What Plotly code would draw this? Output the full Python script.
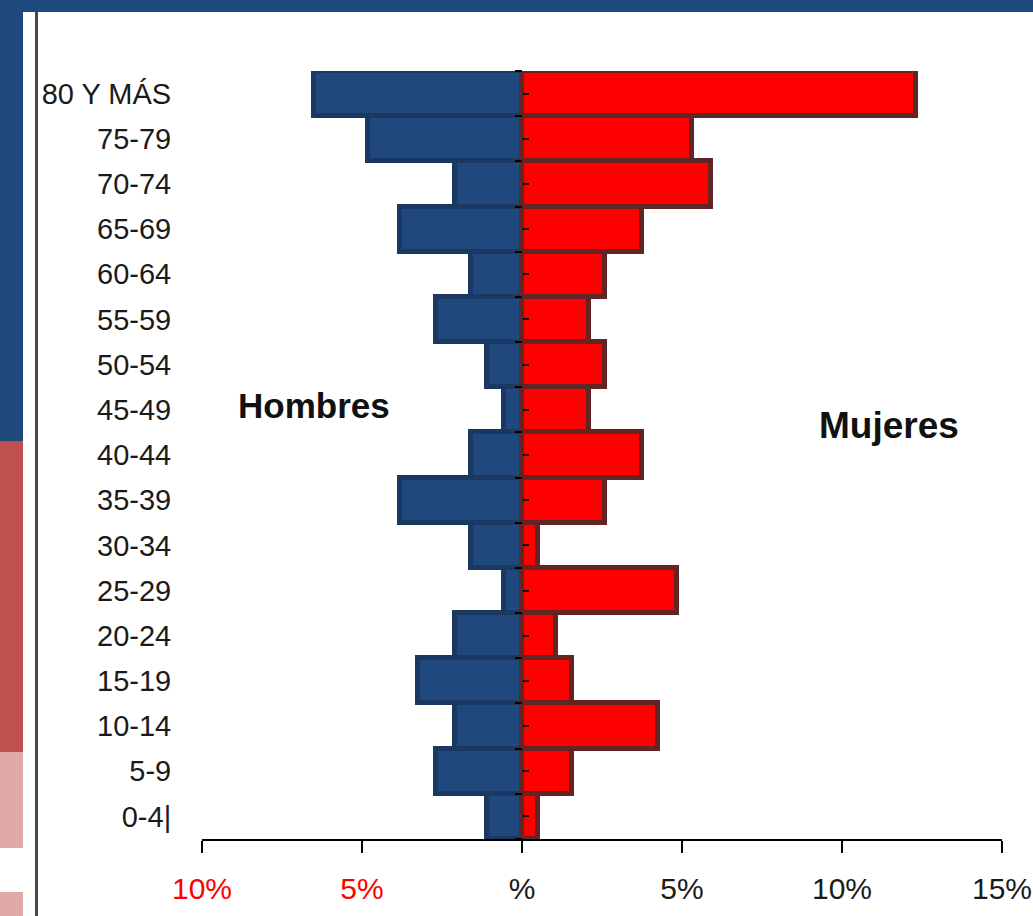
import plotly.graph_objects as go

age_groups = ['0-4|', '5-9', '10-14', '15-19', '20-24', '25-29', '30-34', '35-39',
              '40-44', '45-49', '50-54', '55-59', '60-64', '65-69', '70-74', '75-79', '80 Y MÁS']
hombres = [1.1, 2.7, 2.1, 3.25, 2.1, 0.55, 1.6, 3.8, 1.6, 0.55, 1.1, 2.7, 1.6, 3.8, 2.1, 4.8, 6.5]
mujeres = [0.5, 1.55, 4.25, 1.55, 1.05, 4.85, 0.5, 2.6, 3.75, 2.1, 2.6, 2.1, 2.6, 3.75, 5.9, 5.3, 12.3]
x_tickvals = [-10, -5, 0, 5, 10, 15]
x_ticktext = ['<span style="color:#ff0000">10%</span>', '<span style="color:#ff0000">5%</span>',
              '%', '5%', '10%', '15%']

FONT = "Liberation Sans, Arial, sans-serif"

fig = go.Figure()
fig.add_trace(go.Bar(y=age_groups, x=[-v for v in hombres], orientation='h', name='Hombres',
                     marker=dict(color='#1f497d', line=dict(color='#1a3862', width=5)),
                     hoverinfo='skip'))
fig.add_trace(go.Bar(y=age_groups, x=mujeres, orientation='h', name='Mujeres',
                     marker=dict(color='#ff0000', line=dict(color='#632523', width=5)),
                     hoverinfo='skip'))
# invisible helper traces for the tick marks on the zero line
fig.add_trace(go.Scatter(y=age_groups, x=[0]*len(age_groups), yaxis='y2', mode='markers',
                         marker=dict(opacity=0), hoverinfo='skip', showlegend=False))
fig.add_trace(go.Scatter(y=age_groups, x=[0]*len(age_groups), yaxis='y3', mode='markers',
                         marker=dict(opacity=0), hoverinfo='skip', showlegend=False))

W, H = 1033, 916
L, R, T, B = 202, 31, 71, 77
pw, ph = W - L - R, H - T - B

def px(x):
    return (x - L) / pw

def py(y):
    return (H - B - y) / ph

shapes = [
    dict(type='rect', xref='paper', yref='paper', x0=px(0), x1=px(W), y0=py(12), y1=py(0),
         fillcolor='#1f497d', line_width=0, layer='above'),
    dict(type='rect', xref='paper', yref='paper', x0=px(0), x1=px(23), y0=py(441), y1=py(12),
         fillcolor='#1f497d', line_width=0),
    dict(type='rect', xref='paper', yref='paper', x0=px(0), x1=px(23), y0=py(752), y1=py(441),
         fillcolor='#c0504d', line_width=0),
    dict(type='rect', xref='paper', yref='paper', x0=px(0), x1=px(23), y0=py(848), y1=py(752),
         fillcolor='#e0aaa9', line_width=0),
    dict(type='rect', xref='paper', yref='paper', x0=px(0), x1=px(23), y0=py(H), y1=py(892),
         fillcolor='#e0aaa9', line_width=0),
    dict(type='line', xref='paper', yref='paper', x0=px(36.5), x1=px(36.5), y0=py(H), y1=py(12),
         line=dict(color='#4a4a4a', width=3)),
]

fig.update_layout(
    width=W, height=H, autosize=False,
    margin=dict(l=L, r=R, t=T, b=B, autoexpand=False),
    paper_bgcolor='white', plot_bgcolor='white',
    barmode='relative', bargap=0,
    showlegend=False,
    shapes=shapes,
    font=dict(family=FONT, color='#1a1a1a', size=29),
    xaxis=dict(range=[-10, 15], tickvals=x_tickvals, ticktext=x_ticktext,
               showgrid=False, zeroline=True, zerolinecolor='black', zerolinewidth=2,
               showline=True, linecolor='black', linewidth=2, automargin=False,
               ticks='outside', ticklen=12, tickwidth=2, tickcolor='black',
               ticklabeloverflow='allow', ticklabelstandoff=10,
               tickfont=dict(family=FONT, size=30, color='#1a1a1a')),
    yaxis=dict(type='category', categoryorder='array', categoryarray=age_groups,
               range=[-0.5, 16.5], showgrid=False, showline=False, zeroline=False,
               automargin=False,
               ticks='outside', ticklen=24, tickcolor='rgba(0,0,0,0)',
               tickfont=dict(family=FONT, size=29, color='#1a1a1a')),
    yaxis2=dict(type='category', categoryorder='array', categoryarray=age_groups,
                range=[-0.5, 16.5], overlaying='y', anchor='free', position=0.4, side='left',
                showticklabels=False, showgrid=False, showline=False, zeroline=False,
                automargin=False,
                ticks='outside', tickson='boundaries', ticklen=7, tickwidth=2, tickcolor='black'),
    yaxis3=dict(type='category', categoryorder='array', categoryarray=age_groups,
                range=[-0.5, 16.5], overlaying='y', anchor='free', position=0.4, side='right',
                showticklabels=False, showgrid=False, showline=False, zeroline=False,
                automargin=False,
                ticks='outside', ticklen=6, tickwidth=2, tickcolor='black'),
    annotations=[
        dict(text='<b>Hombres</b>', xref='paper', yref='paper', x=px(314), y=py(405),
             xanchor='center', yanchor='middle',
             showarrow=False, font=dict(family=FONT, size=35, color='#111111')),
        dict(text='<b>Mujeres</b>', xref='paper', yref='paper', x=px(889), y=py(425),
             xanchor='center', yanchor='middle',
             showarrow=False, font=dict(family=FONT, size=37, color='#111111')),
    ],
)

fig.write_html("out.html",
               config={'displayModeBar': False, 'responsive': False},
               post_script="document.body.style.margin='0';document.body.style.overflow='hidden';")
